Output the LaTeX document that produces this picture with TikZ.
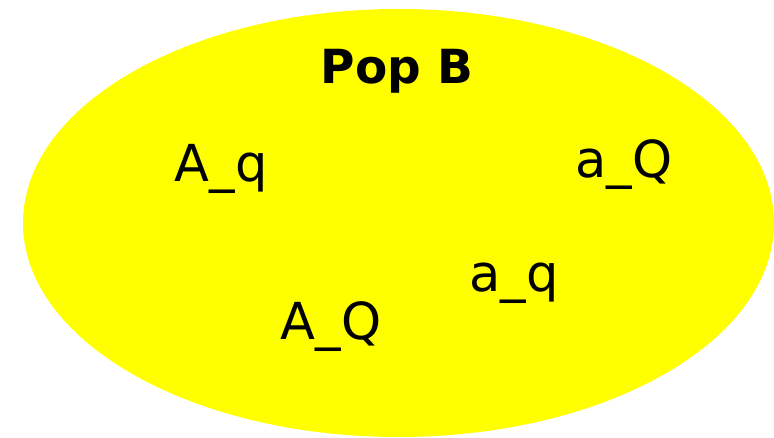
\documentclass[tikz,border=0pt]{standalone}
\usepackage{fontspec}
\setmainfont{DejaVu Sans}
\usetikzlibrary{shapes.geometric}
\definecolor{popyellow}{RGB}{255, 255, 0}

\begin{document}
\begin{tikzpicture}[x=1pt, y=-1pt,
    pop/.style={ellipse, fill=popyellow, inner sep=0pt, minimum width=751pt, minimum height=428pt},
    allele/.style={anchor=base, inner sep=0pt, font=\fontsize{51}{60}\selectfont}]
  \useasboundingbox (0,0) rectangle (774,438);
  % population
  \node[pop] (popB) at (398.5, 223) {};
  \node[anchor=base, inner sep=0pt, font=\fontsize{47}{55}\selectfont\bfseries] (title) at (397, 84) {Pop B};
  % genotypes
  \node[allele] (Aq) at (221, 182) {A\_q};
  \node[allele] (aQ) at (624, 178) {a\_Q};
  \node[allele] (aq) at (514, 292) {a\_q};
  \node[allele] (AQ) at (331, 340) {A\_Q};
\end{tikzpicture}
\end{document}
